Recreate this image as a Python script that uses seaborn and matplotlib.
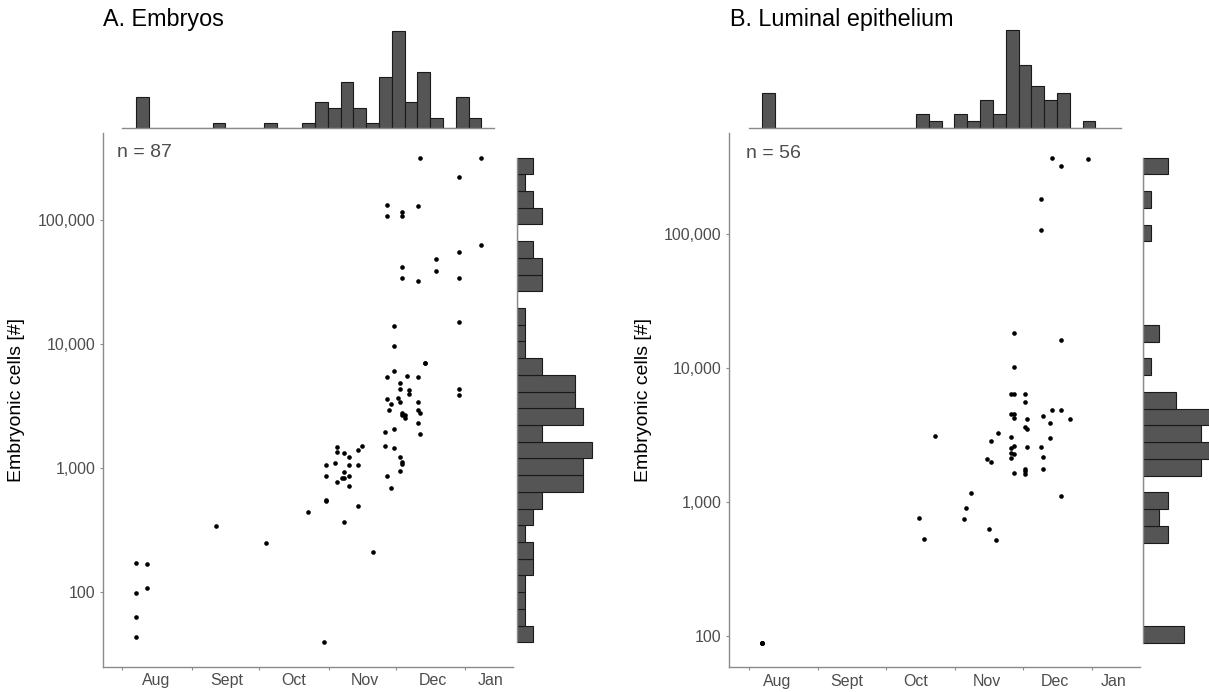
import matplotlib
matplotlib.use("Agg")
import matplotlib.pyplot as plt
import numpy as np
import pandas as pd
import seaborn as sns
from matplotlib.ticker import FixedLocator, FixedFormatter, NullLocator, NullFormatter

# Sampling day (days after 1 August) and embryonic cell counts, embryos
embryo_day = [6, 6, 6, 6, 11, 11, 42, 64, 83, 90,
              91, 91, 91, 91, 95, 96, 96, 96, 98,
              99, 99, 99, 99, 101, 101, 101, 101,
              105, 105, 105, 107, 112, 117, 117,
              118, 118, 118, 118, 118, 119, 120, 120,
              121, 121, 121, 121, 121, 123,
              124, 124, 124, 124, 124,
              125, 125, 125, 125, 125, 125, 125, 125,
              126, 126, 127, 128, 128,
              132, 132, 132, 132, 132, 132,
              133, 133, 133, 135, 135, 140, 140,
              150, 150, 150, 150, 150, 150, 160, 160]
embryo_cells = [169, 97, 62, 43, 166, 107, 336, 246, 441, 39,
                1060, 860, 553, 541, 1100, 1480, 1330, 765, 825,
                1310, 917, 832, 362, 1220, 1060, 851, 714,
                1400, 1050, 490, 1490, 207, 1930, 1490,
                132000, 107000, 5380, 3610, 856, 2940, 3280, 691,
                13900, 9640, 6020, 2070, 1440, 3630,
                4840, 4310, 3400, 1230, 948,
                116000, 107000, 42100, 34100, 2780, 2670, 1110, 1080,
                2690, 2540, 5520, 4270, 3930,
                131000, 32300, 5380, 3380, 2940, 2290,
                315000, 2770, 1870, 7020, 7050, 48500, 38600,
                222000, 55300, 34000, 15000, 4290, 3890, 320000, 63400]

# Sampling day and embryonic cell counts, luminal epithelium
lumen_day = [6, 6, 6, 6, 6, 76, 78, 83, 96, 97, 99,
             106, 107, 108, 108, 110, 111,
             117, 117, 117, 117, 117, 117,
             118, 118, 118, 118, 118, 118, 118, 118,
             123, 123, 123, 123, 123, 123,
             124, 124, 124, 130, 130, 130, 131, 131, 131,
             134, 134, 135, 135, 139, 139, 139, 139, 143, 151]
lumen_cells = [89, 89, 89, 89, 89, 763, 533, 3110, 754, 901, 1170,
               2080, 629, 2870, 2000, 524, 3270,
               6380, 4580, 3060, 2520, 2310, 2130,
               18400, 10100, 6350, 4510, 4250, 2630, 2300, 1640,
               6410, 5590, 3630, 1780, 1710, 1620,
               4180, 3520, 2560, 182000, 107000, 2590, 4400, 2180, 1770,
               3900, 2990, 371000, 4880, 322000, 16100, 4830, 1120, 4170, 359000]

month_starts = [0, 31, 61, 92, 122, 153]
month_names = ["Aug", "Sept", "Oct", "Nov", "Dec", "Jan"]
cell_ticks = [100, 1000, 10000, 100000]
cell_tick_labels = ["100", "1,000", "10,000", "100,000"]

DAY_BIN_WIDTH = 5.71   # days per bin in the sampling-date histograms
CELL_BINS = 29         # log-spaced bins in the cell-count histograms

sns.set_theme(style="white")
plt.rcParams["font.family"] = ["Liberation Sans", "DejaVu Sans"]

W, H = 1209, 692
fig = plt.figure(figsize=(W / 100, H / 100), dpi=100)
fig.patch.set_facecolor("white")

AXIS_GREY = "#8a8a8a"
TEXT_GREY = "#4d4d4d"
BAR_FILL = "#555555"
BAR_EDGE = "#1a1a1a"
X_RANGE = (-8.6, 174.3)


def px_axes(x0, y0, x1, y1):
    return fig.add_axes([x0 / W, 1 - y1 / H, (x1 - x0) / W, (y1 - y0) / H])


def day_bin_edges(days, width):
    start, stop = min(days), max(days)
    edges = np.arange(start, stop + width, width)
    if edges.max() < stop:
        edges = np.append(edges, edges.max() + width)
    return edges


panels = [
    dict(day=embryo_day, cells=embryo_cells, title="A. Embryos",
         scatter=(103, 133.3, 513, 666.5), top=(103, 26, 513, 128),
         side=(516.7, 133.3, 595.5, 666.5), title_x=103,
         label_days=[15.0, 46.6, 76.6, 108.2, 138.4, 164.3], n_x=0.033),
    dict(day=lumen_day, cells=lumen_cells, title="B. Luminal epithelium",
         scatter=(729.3, 133.3, 1140, 667.3), top=(729.3, 25.5, 1140, 127.7),
         side=(1142.7, 133.3, 1221.5, 667.3), title_x=730,
         label_days=[12.5, 43.9, 74.5, 106.1, 136.6, 162.4], n_x=0.041),
]

for p in panels:
    df = pd.DataFrame({"day": p["day"], "cells": p["cells"]})

    ax = px_axes(*p["scatter"])
    ax_top = px_axes(*p["top"])
    ax_side = px_axes(*p["side"])

    # main scatter: cell count against sampling date
    sns.scatterplot(data=df, x="day", y="cells", ax=ax, color="black",
                    s=11, linewidth=0, legend=False)
    ax.set_yscale("log")
    ax.set_xlim(*X_RANGE)
    ax.yaxis.set_major_locator(FixedLocator(cell_ticks))
    ax.yaxis.set_major_formatter(FixedFormatter(cell_tick_labels))
    ax.yaxis.set_minor_locator(NullLocator())
    ax.xaxis.set_major_locator(FixedLocator(month_starts))
    ax.xaxis.set_major_formatter(NullFormatter())
    ax.xaxis.set_minor_locator(FixedLocator(p["label_days"]))
    ax.xaxis.set_minor_formatter(FixedFormatter(month_names))
    ax.tick_params(which="major", bottom=True, left=True, length=2.5,
                   width=0.8, color=AXIS_GREY, direction="out",
                   labelsize=11.5, labelcolor=TEXT_GREY, pad=3)
    ax.tick_params(axis="x", which="minor", bottom=True, length=0, pad=5,
                   labelsize=11.5, labelcolor=TEXT_GREY)
    for side in ("top", "right"):
        ax.spines[side].set_visible(False)
    for side in ("left", "bottom"):
        ax.spines[side].set_color(AXIS_GREY)
        ax.spines[side].set_linewidth(1.0)
    ax.set_xlabel("")
    ax.set_ylabel("Embryonic cells [#]", fontsize=14, color="black", labelpad=9)
    ax.text(p["n_x"], 0.979, f"n = {len(df)}", transform=ax.transAxes,
            ha="left", va="top", fontsize=14, color=TEXT_GREY)
    ylim = ax.get_ylim()

    # marginal histogram of sampling dates
    sns.histplot(data=df, x="day", bins=day_bin_edges(p["day"], DAY_BIN_WIDTH),
                 ax=ax_top, color=BAR_FILL, edgecolor=BAR_EDGE, linewidth=0.8,
                 alpha=1)
    ax_top.set_xlim(*X_RANGE)
    ax_top.set_xticks([])
    ax_top.set_yticks([])
    ax_top.set_xlabel("")
    ax_top.set_ylabel("")
    for side in ("top", "right", "left"):
        ax_top.spines[side].set_visible(False)
    ax_top.spines["bottom"].set_color(AXIS_GREY)
    ax_top.spines["bottom"].set_linewidth(1.0)
    ax_top.spines["bottom"].set_bounds(0, 166)
    ax_top.patch.set_alpha(0)

    # marginal histogram of cell counts (log-spaced bins)
    sns.histplot(data=df, y="cells", bins=CELL_BINS, log_scale=True, ax=ax_side,
                 color=BAR_FILL, edgecolor=BAR_EDGE, linewidth=0.8, alpha=1)
    ax_side.set_ylim(*ylim)
    ax_side.set_xticks([])
    ax_side.yaxis.set_major_locator(NullLocator())
    ax_side.yaxis.set_minor_locator(NullLocator())
    ax_side.set_xlabel("")
    ax_side.set_ylabel("")
    for side in ("top", "right", "bottom"):
        ax_side.spines[side].set_visible(False)
    ax_side.spines["left"].set_color(AXIS_GREY)
    ax_side.spines["left"].set_linewidth(1.0)
    ax_side.spines["left"].set_bounds(min(p["cells"]), max(p["cells"]))
    ax_side.patch.set_alpha(0)

    fig.text(p["title_x"] / W, 1 - 26 / H, p["title"], fontsize=16.8,
             ha="left", va="baseline", color="black")

fig.savefig("out.png", dpi=100, facecolor="white")
